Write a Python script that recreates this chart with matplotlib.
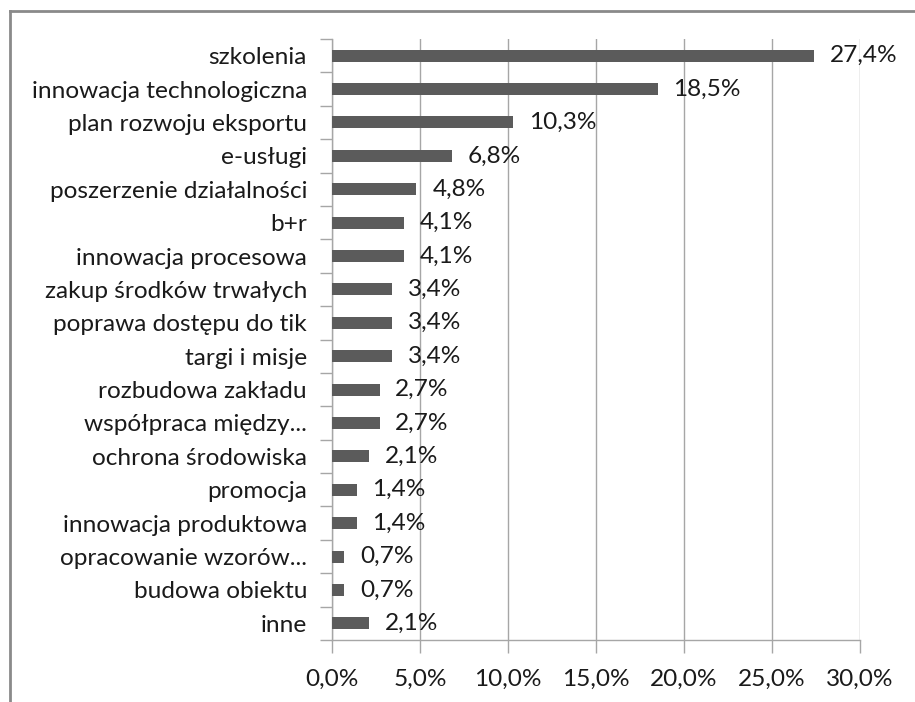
import matplotlib.pyplot as plt
from matplotlib.lines import Line2D
from matplotlib.ticker import FuncFormatter

# categories top to bottom, share in %
categories = ['szkolenia', 'innowacja technologiczna', 'plan rozwoju eksportu',
              'e-usługi', 'poszerzenie działalności', 'b+r', 'innowacja procesowa',
              'zakup środków trwałych', 'poprawa dostępu do tik', 'targi i misje',
              'rozbudowa zakładu', 'współpraca między...', 'ochrona środowiska',
              'promocja', 'innowacja produktowa', 'opracowanie wzorów...',
              'budowa obiektu', 'inne']
values = [27.4, 18.5, 10.3, 6.8, 4.8, 4.1, 4.1, 3.4, 3.4, 3.4,
          2.7, 2.7, 2.1, 1.4, 1.4, 0.7, 0.7, 2.1]
xticks = [0, 5, 10, 15, 20, 25, 30]

plt.rcParams['font.family'] = ['Lato', 'DejaVu Sans']
fs = 17.6

fig = plt.figure(figsize=(9.15, 7.02), dpi=100)
ax = fig.add_axes([332 / 915, 1 - 640 / 702, (860 - 332) / 915, 601 / 702])

grid_col = '#a6a6a6'
text_col = '#1a1a1a'

ypos = list(range(len(categories)))[::-1]
ax.barh(ypos, values, height=0.36, color='#5b5b5b', zorder=3)

for y, v in zip(ypos, values):
    ax.text(v + 0.9, y, f'{v:.1f}%'.replace('.', ','), va='center', ha='left',
            fontsize=fs, color=text_col, zorder=4)

ax.set_xlim(0, 30)
ax.set_ylim(-0.5, len(categories) - 0.5)
ax.set_xticks(xticks)
ax.xaxis.set_major_formatter(FuncFormatter(lambda x, p: f'{x:.1f}%'.replace('.', ',')))
ax.set_yticks(ypos)
ax.set_yticklabels(categories)
ax.set_yticks([i - 0.5 for i in range(len(categories) + 1)], minor=True)

ax.grid(axis='x', color=grid_col, linewidth=1, zorder=0)
for s in ['top', 'right']:
    ax.spines[s].set_visible(False)
for s in ['left', 'bottom']:
    ax.spines[s].set_color(grid_col)
    ax.spines[s].set_linewidth(1)

ax.tick_params(axis='y', which='major', length=0, pad=18, labelsize=fs, labelcolor=text_col)
ax.tick_params(axis='y', which='minor', length=9, color=grid_col, width=1)
ax.tick_params(axis='x', length=9, color=grid_col, width=1, pad=12,
               labelsize=fs, labelcolor=text_col)

# outer chart border (only top and left visible)
border = '#8a8a8a'
fig.add_artist(Line2D([9.5 / 915, 9.5 / 915], [0, 1 - 11 / 702], color=border,
                      linewidth=2, transform=fig.transFigure))
fig.add_artist(Line2D([9.5 / 915, 1], [1 - 11 / 702, 1 - 11 / 702], color=border,
                      linewidth=2, transform=fig.transFigure))

fig.savefig('out.png', dpi=100)
